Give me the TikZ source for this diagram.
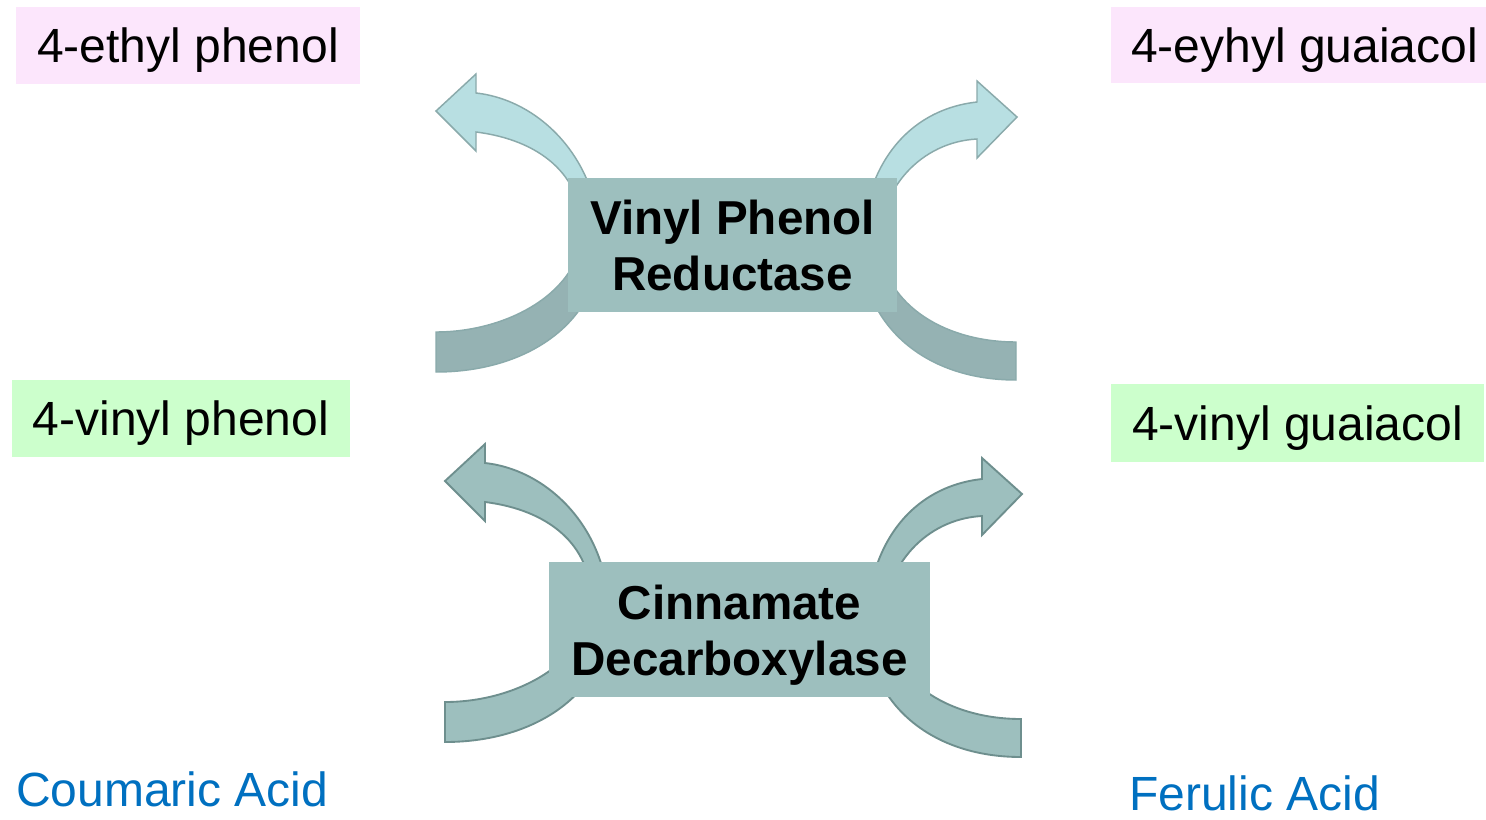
\documentclass[tikz,border=0pt]{standalone}
\usepackage{fontspec}
\setmainfont{Liberation Sans}
\definecolor{pinkbg}{HTML}{FCE6FC}
\definecolor{greenbg}{HTML}{CCFFCC}
\definecolor{boxteal}{HTML}{9DBFBE}
\definecolor{lightteal}{HTML}{B8DFE2}
\definecolor{darkteal}{HTML}{95B2B3}
\definecolor{lineteal}{HTML}{8AAAAB}
\definecolor{lineteal2}{HTML}{6E8F8E}
\definecolor{acidblue}{HTML}{0070C0}
\def\LArrowPath{(436,372) .. controls (530,372) and (600,320) .. (600,245) .. controls (600,160) and (540,100) .. (476,93) -- (476,74) -- (436,111) -- (476,151) -- (476,132) .. controls (540,140) and (582,175) .. (582,230) .. controls (582,290) and (510,332) .. (436,332) -- cycle}
\def\RArrowPath{(1016,380) .. controls (920,380) and (862,320) .. (862,250) .. controls (862,170) and (905,110) .. (977,102) -- (977,81) -- (1017,117) -- (977,158) -- (977,139) .. controls (920,142) and (880,190) .. (880,240) .. controls (880,300) and (940,342) .. (1016,342) -- cycle}
\tikzset{
  lbl/.style={font=\fontsize{36}{41}\selectfont, text height=25.8pt, text depth=0pt, inner sep=0pt, anchor=center},
  pinkbox/.style={lbl, fill=pinkbg},
  greenbox/.style={lbl, fill=greenbg},
  enzbox/.style={fill=boxteal, inner sep=0pt},
  enztext/.style={font=\bfseries\fontsize{35.7}{41}\selectfont, inner sep=0pt, anchor=base},
  acid/.style={font=\fontsize{36}{41}\selectfont, text=acidblue, inner sep=0pt, anchor=base west},
  topline/.style={draw=lineteal, line width=1.1pt},
  botline/.style={draw=lineteal2, line width=1.4pt},
}
\begin{document}
\begin{tikzpicture}[x=0.75pt, y=-0.75pt]
\useasboundingbox (0,0) rectangle (1486,819);
\fill[white] (0,0) rectangle (1486,819);

% labels
\node[pinkbox, minimum width=258pt, minimum height=57.75pt] (eth) at (188,45) {4-ethyl phenol};
\node[pinkbox, minimum width=281.25pt, minimum height=57pt] (eg) at (1298.5,45) {\hspace*{9pt}4-eyhyl guaiacol};
\node[greenbox, minimum width=253.5pt, minimum height=57.75pt] (vph) at (181,418.5) {4-vinyl phenol};
\node[greenbox, minimum width=279.75pt, minimum height=58.5pt] (vg) at (1297.5,423) {4-vinyl guaiacol};
\node[acid] (ca) at (16,806) {Coumaric Acid};
\node[acid] (fa) at (1129,810) {Ferulic Acid};

% top curved arrows (light upper part, darker lower part)
\begin{scope}
  \clip (0,0) rectangle (1486,245);
  \fill[lightteal] \LArrowPath;
  \fill[lightteal] \RArrowPath;
\end{scope}
\begin{scope}
  \clip (0,245) rectangle (1486,819);
  \fill[darkteal] \LArrowPath;
  \fill[darkteal] \RArrowPath;
\end{scope}
\draw[topline] \LArrowPath;
\draw[topline] \RArrowPath;

% bottom curved arrows
\begin{scope}[shift={(9,370)}]
  \filldraw[fill=boxteal, botline] \LArrowPath;
\end{scope}
\begin{scope}[shift={(5,377)}]
  \filldraw[fill=boxteal, botline] \RArrowPath;
\end{scope}

% enzyme boxes
\node[enzbox, minimum width=246.75pt, minimum height=100.5pt] (vpr) at (732.5,245) {};
\node[enztext] (vpr1) at (732.5,234) {Vinyl Phenol};
\node[enztext] (vpr2) at (732.5,290) {Reductase};
\node[enzbox, minimum width=285.75pt, minimum height=101.25pt] (cd) at (739.5,629.5) {};
\node[enztext] (cd1) at (739.5,619) {Cinnamate};
\node[enztext] (cd2) at (739.5,675) {Decarboxylase};
\end{tikzpicture}
\end{document}
